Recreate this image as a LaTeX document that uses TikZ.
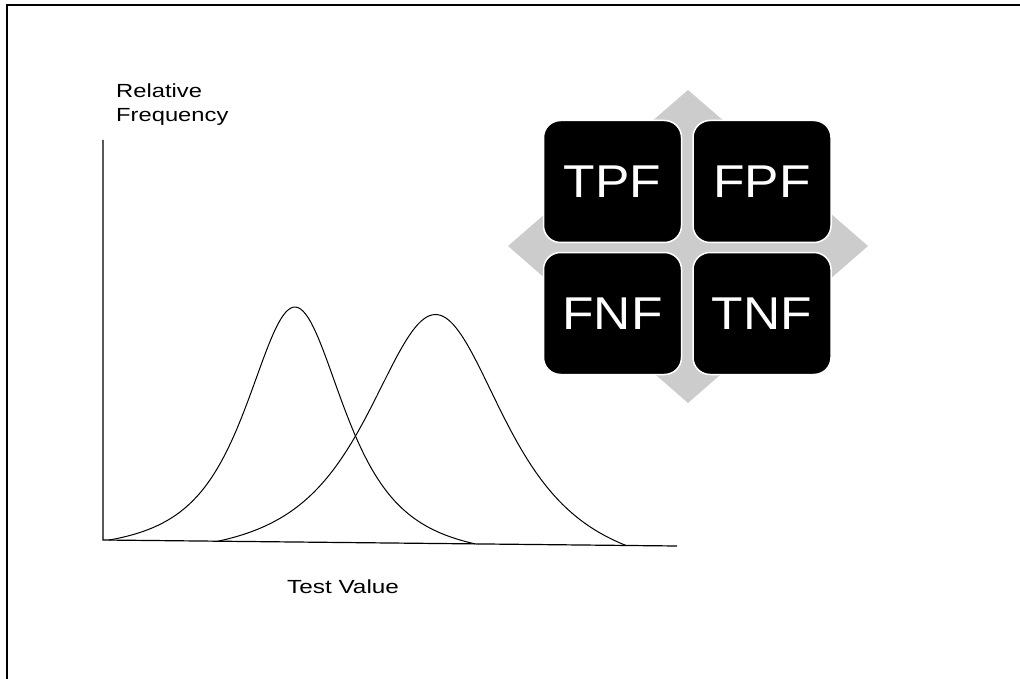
\documentclass[tikz,border=0pt]{standalone}
\usepackage{fontspec}
\setmainfont{Liberation Sans}
\newcommand{\wide}[2]{\scalebox{#1}[1]{#2}}
\begin{document}
\begin{tikzpicture}[x=1pt,y=-1pt,
  cell/.style={fill=black,draw=white,line width=1.5pt,rounded corners=17pt,
    minimum width=138pt,minimum height=122pt,inner sep=0pt,text=white,
    font=\fontsize{46}{46}\selectfont},
  lbl/.style={font=\fontsize{19}{24}\selectfont,inner sep=0pt},
  curve/.style={line width=1pt,line join=round},
  declare function={
    tl(\u)=1/((1+\u*\u)*sqrt(1+\u*\u));
  }]
\useasboundingbox (0,0) rectangle (1020,679);
% frame
\draw[line width=2pt] (1020,5) -- (7,5) -- (7,679);
% gray diamond
\fill[black!20] (688,90) -- (868,246) -- (688,403) -- (508,246) -- cycle;
% cells
\node[cell] (tpf) at (612.5,181.5) {\wide{1.12}{TPF}};
\node[cell] (fpf) at (762,181.5) {\wide{1.12}{FPF}};
\node[cell] (fnf) at (612.5,313.5) {\wide{1.12}{FNF}};
\node[cell] (tnf) at (762,313.5) {\wide{1.12}{TNF}};
% axes
\coordinate (ytop) at (103,140);
\coordinate (orig) at (103,540);
\coordinate (xend) at (677,546);
\draw[line width=1.2pt] (ytop) -- (orig) -- (xend);
% curves
\draw[curve] plot[domain=109:475,samples=150,variable=\t]
  ({\t},{540+(\t-103)*6/574-235*(tl((\t-295)/77)-(0.0559+0.0049*(\t-109)/366))/0.9416});
\draw[curve] plot[domain=218:626,samples=150,variable=\t]
  ({\t},{540+(\t-103)*6/574-229*(tl((\t-436)/108)-(0.0875+0.0332*(\t-218)/408))/0.8948});
% labels
\node[lbl,anchor=base west,align=left] (ylab) at (116,122) {\wide{1.25}{Relative}\\\wide{1.25}{Frequency}};
\node[lbl,anchor=base west] (xlab) at (287,593) {\wide{1.28}{Test Value}};
\end{tikzpicture}
\end{document}
